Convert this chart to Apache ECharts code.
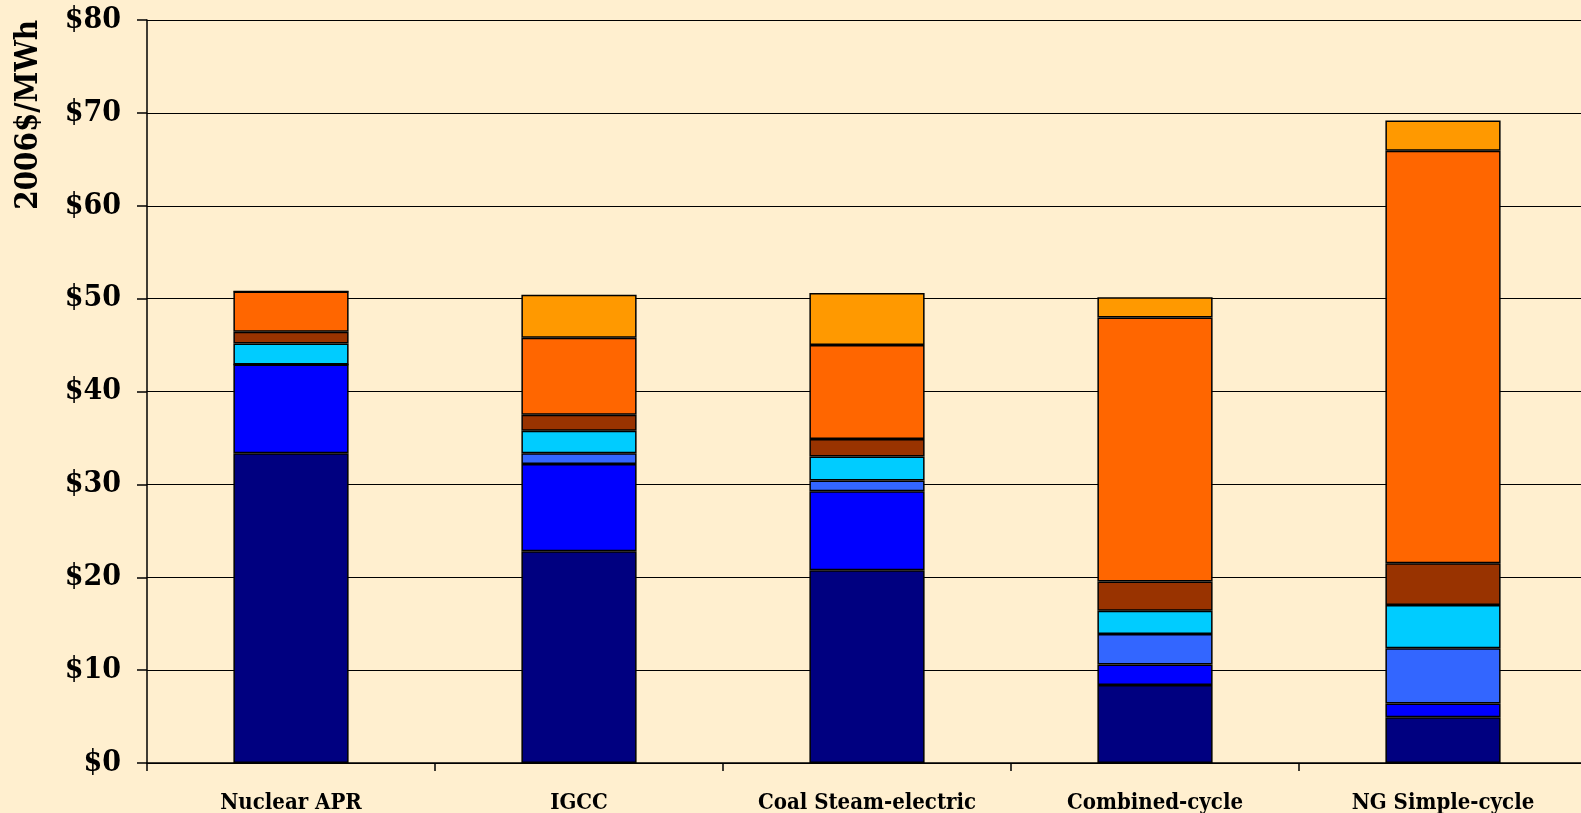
<!DOCTYPE html>
<html>
<head>
<meta charset="utf-8">
<script src="https://cdn.jsdelivr.net/npm/echarts@6/dist/echarts.min.js"></script>
<style>
  html, body { margin: 0; padding: 0; background: #FFEFCF; }
  #chart { width: 1581px; height: 813px; }
</style>
</head>
<body>
<div id="chart"></div>
<script>
// Levelized cost components by technology (2006 $/MWh)
const categories = ['Nuclear APR', 'IGCC', 'Coal Steam-electric', 'Combined-cycle', 'NG Simple-cycle'];
const yTicks = [0, 10, 20, 30, 40, 50, 60, 70, 80];

const comp1 = [33.35, 22.8, 20.75, 8.4, 4.93];   // navy
const comp2 = [9.55, 9.4, 8.5, 2.2, 1.47];       // blue
const comp3 = [0, 1.15, 1.18, 3.3, 5.96];        // royal blue
const comp4 = [2.28, 2.43, 2.56, 2.5, 4.64];     // cyan
const comp5 = [1.25, 1.72, 1.9, 3.14, 4.5];      // brown
const comp6 = [4.35, 8.3, 10.11, 28.42, 44.41];  // orange
const comp7 = [0, 4.63, 5.61, 2.18, 3.26];       // light orange

const seriesData = [comp1, comp2, comp3, comp4, comp5, comp6, comp7];
const seriesColors = ['#000080', '#0000FF', '#3366FF', '#00CCFF', '#993300', '#FF6600', '#FF9900'];

const FONT = "'DejaVu Serif Condensed', 'DejaVu Serif', serif";

const chart = echarts.init(document.getElementById('chart'), null, { renderer: 'canvas' });

chart.setOption({
  backgroundColor: '#FFEFCF',
  animation: false,
  // plot area runs slightly past the right edge of the canvas
  grid: { left: 147, width: 1440, top: 20, bottom: 50, containLabel: false, outerBoundsMode: 'none' },
  xAxis: {
    type: 'category',
    data: categories,
    axisLine: { lineStyle: { color: '#000', width: 1.5 } },
    axisTick: { show: true, alignWithLabel: false, length: 8, lineStyle: { color: '#000', width: 1.5 } },
    axisLabel: {
      interval: 0,
      margin: 29,
      color: '#000',
      fontFamily: FONT,
      fontWeight: 'bold',
      fontSize: 22
    }
  },
  yAxis: {
    type: 'value',
    min: yTicks[0],
    max: yTicks[yTicks.length - 1],
    interval: 10,
    axisLine: { show: true, lineStyle: { color: '#000', width: 1.5 } },
    axisTick: { show: true, length: 10, lineStyle: { color: '#000', width: 1.5 } },
    splitLine: { show: true, lineStyle: { color: '#000', width: 1.2 } },
    axisLabel: {
      margin: 26,
      color: '#000',
      fontFamily: FONT,
      fontWeight: 'bold',
      fontSize: 30,
      formatter: v => '$' + v
    }
  },
  graphic: [{
    type: 'text',
    x: 29,
    y: 20,
    rotation: Math.PI / 2,
    style: {
      text: '2006$/MWh',
      fill: '#000',
      font: 'bold 31px ' + FONT,
      textAlign: 'right',
      textVerticalAlign: 'middle'
    }
  }],
  series: seriesData.map((d, i) => ({
    type: 'bar',
    stack: 'cost',
    data: d,
    barCategoryGap: '60%',
    itemStyle: { color: seriesColors[i], borderColor: '#000', borderWidth: 1.5 },
    emphasis: { disabled: true }
  }))
});
</script>
</body>
</html>
